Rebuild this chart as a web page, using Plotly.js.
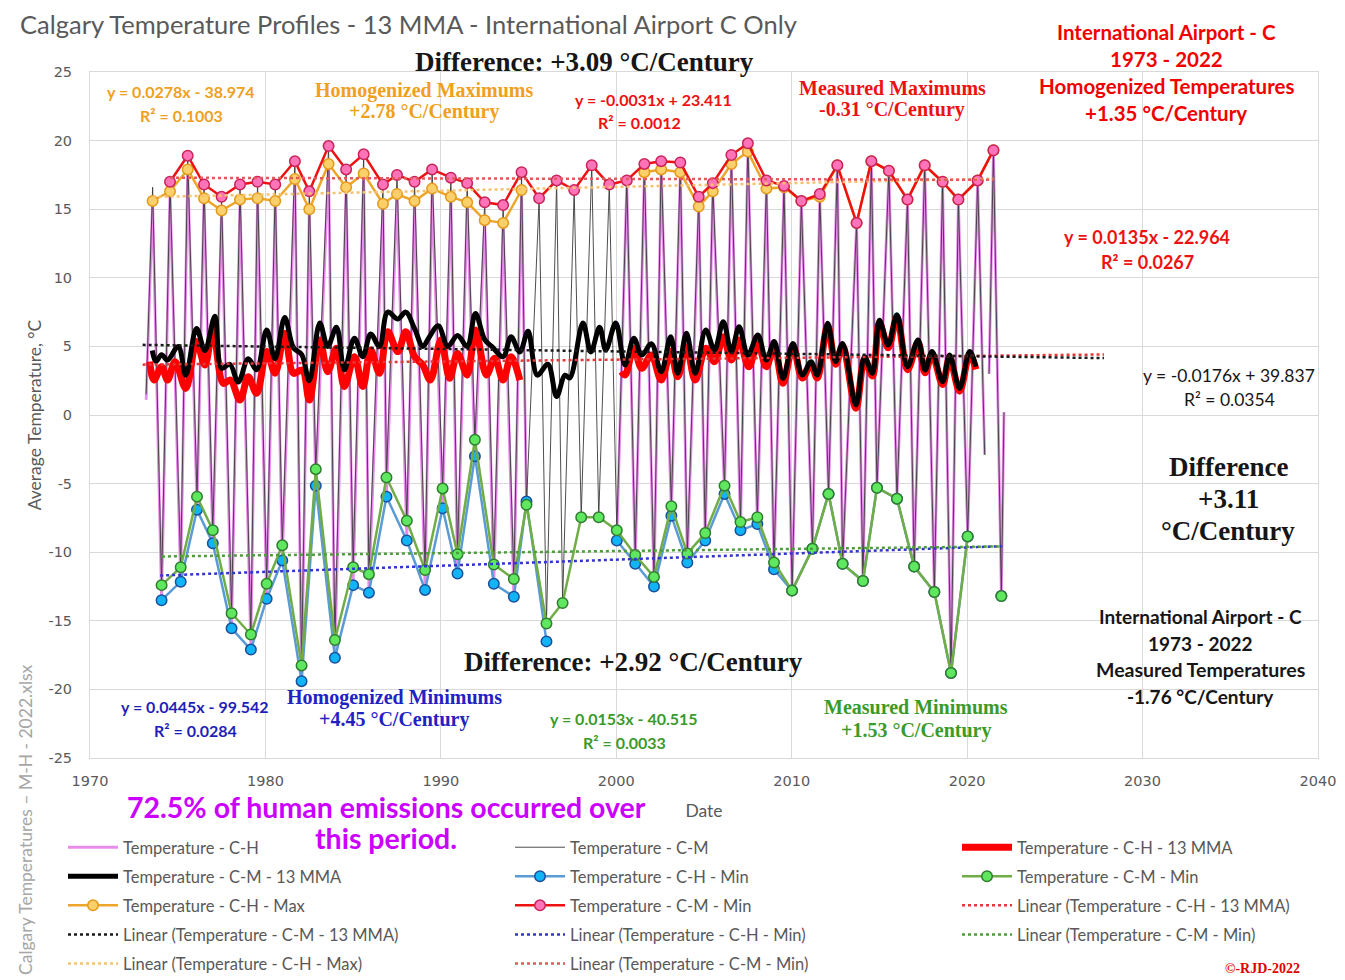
<!DOCTYPE html>
<html><head><meta charset="utf-8">
<script src="https://cdn.plot.ly/plotly-3.0.1.min.js"></script>
<style>html,body{margin:0;padding:0;background:#fff}#chart{width:1345px;height:980px}</style>
</head><body><div id="chart"></div>
<script>
// ---------- DATA ----------
// Yearly maximum (summer peak) dates, decimal years
const maxDates = [1973.57,1974.56,1975.57,1976.50,1977.50,1978.55,1979.55,
  1980.56,1981.68,1982.50,1983.60,1984.60,1985.60,1986.70,1987.50,1988.50,1989.50,
  1990.57,1991.50,1992.50,1993.55,1994.60,1995.60,1996.60,1997.60,1998.60,1999.60,
  2000.60,2001.60,2002.56,2003.65,2004.70,2005.50,2006.56,2007.50,2008.56,2009.56,
  2010.55,2011.60,2012.60,2013.70,2014.54,2015.54,2016.60,2017.58,2018.60,2019.50,
  2020.60,2021.50];
const chMax = [15.6,16.3,17.9,15.8,14.9,15.7,15.8,
  15.6,17.2,15.0,18.3,16.6,17.6,15.4,16.1,15.6,16.5,
  15.9,15.5,14.2,14.0,16.4,null,null,null,null,null,
  null,17.7,17.9,17.7,15.2,16.3,18.3,19.2,16.5,16.6,
  15.6,15.9,18.2,14.0,18.5,17.8,15.7,18.2,17.0,15.7,
  17.1,19.3];
const cmMax = [null,17.0,18.9,16.8,15.9,16.8,17.0,
  16.8,18.5,16.3,19.6,17.9,19.0,16.8,17.5,17.0,17.9,
  17.3,16.9,15.5,15.3,17.7,15.8,17.1,16.4,18.2,16.8,
  17.1,18.3,18.5,18.4,15.9,16.9,18.95,19.8,17.1,16.7,
  15.6,16.1,18.2,14.0,18.5,17.8,15.7,18.2,17.0,15.7,
  17.1,19.3];
// Yearly minimum (winter trough) dates, decimal years
const minDates = [1974.08,1975.17,1976.10,1977.00,1978.07,1979.17,
  1980.07,1980.96,1982.06,1982.87,1983.96,1985.00,1985.90,1986.90,1988.06,1989.10,
  1990.10,1990.95,1991.94,1993.02,1994.16,1994.88,1996.02,1996.94,1998.00,1999.00,
  2000.03,2001.08,2002.15,2003.14,2004.05,2005.07,2006.17,2007.08,2008.04,2008.99,
  2010.02,2011.18,2012.10,2012.90,2014.06,2014.86,2016.00,2016.98,2018.13,2019.08,
  2020.03,2021.10,2021.95];
const chMin = [-13.5,-12.15,-6.9,-9.35,-15.55,-17.1,
  -13.4,-10.6,-19.4,-5.15,-17.7,-12.4,-12.95,-5.95,-9.15,-12.75,
  -6.8,-11.55,-3.0,-12.3,-13.25,-6.3,-16.5,null,null,null,
  -9.15,-10.85,-12.5,-7.35,-10.75,-9.15,-5.75,-8.4,-7.95,-11.25,
  -12.8,-9.75,-5.75,-10.85,-12.1,-5.3,-6.1,-11.05,-12.9,-18.8,
  -8.85,null,-13.2];
const cmMin = [-12.4,-11.1,-5.95,-8.4,-14.45,-16.0,
  -12.3,-9.5,-18.25,-3.95,-16.4,-11.1,-11.6,-4.55,-7.7,-11.3,
  -5.35,-10.15,-1.8,-10.9,-11.95,-6.55,-15.2,-13.7,-7.45,-7.45,
  -8.4,-10.2,-11.8,-6.65,-10.1,-8.6,-5.15,-7.8,-7.45,-10.75,
  -12.8,-9.75,-5.75,-10.85,-12.1,-5.3,-6.1,-11.05,-12.9,-18.8,
  -8.85,null,-13.2];
// Monthly points visible besides the yearly extremes
const chExtraDates = [1973.20, 2000.60, 2021.00, 2021.25, 2022.10];
const chExtraVals  = [1.1, 16.9, -2.9, 3.0, 0.2];
const chGapDates   = [1995.30, 1996.50, 2021.12];
const cmExtraDates = [1973.20, 1973.57, 2021.00, 2021.25, 2022.10];
const cmExtraVals  = [1.5, 16.6, -2.9, 3.0, 0.2];
const cmGapDates   = [2021.12];

// 13-month moving averages (read at their crests and troughs)
const cmMmaDates = [1973.55,1973.75,1974.08,1974.42,1975.03,1975.46,1976.07,1976.55,1977.12,1977.50,
  1977.97,1978.45,1979.02,1979.50,1980.07,1980.55,1981.10,1981.60,1982.07,1982.50,
  1983.10,1983.55,1984.05,1984.50,1985.07,1985.55,1986.00,1986.50,1986.97,1987.55,
  1988.00,1988.50,1988.97,1989.30,1989.85,1990.40,1990.95,1991.50,1991.97,1992.50,
  1992.90,1993.55,1994.00,1994.50,1994.97,1995.50,1996.10,1996.60,1997.07,1997.35,
  1998.10,1998.55,1999.05,1999.40,1999.97,2000.50,2001.00,2001.45,2002.00,2002.56,
  2003.10,2003.50,2004.00,2004.50,2005.10,2005.60,2006.10,2006.56,2007.00,2007.50,
  2008.07,2008.55,2009.00,2009.50,2010.07,2010.60,2011.10,2011.45,2012.05,2012.50,
  2012.90,2013.66,2014.15,2014.60,2015.00,2015.50,2016.00,2016.60,2017.20,2017.60,
  2018.00,2018.60,2019.00,2019.57,2020.14,2020.50];
const cmMma = [4.7,3.9,4.4,4.0,5.0,2.9,6.3,4.7,7.2,3.4,
  3.7,2.4,4.1,3.3,6.2,4.1,7.1,4.9,4.4,2.5,
  6.7,5.0,6.4,3.3,5.6,4.25,5.9,5.0,7.5,7.0,
  7.5,6.3,5.0,5.6,6.5,5.0,5.8,5.0,7.4,5.5,
  5.0,4.25,5.7,4.6,6.1,2.9,3.7,1.35,2.9,2.7,
  6.7,4.6,6.4,4.74,6.7,3.64,5.6,4.37,5.2,3.16,
  5.7,3.04,5.95,3.04,6.2,4.74,6.8,4.62,6.44,4.37,
  5.83,4.0,5.35,2.67,5.22,2.92,3.89,2.92,6.68,3.89,
  5.22,0.73,4.25,3.04,6.9,5.1,7.3,3.52,5.47,3.28,
  4.62,2.43,4.37,1.94,4.62,3.52];
const chMmaDates = [1973.40,1973.65,1974.08,1974.42,1974.85,1975.46,1976.07,1976.55,1977.00,1977.60,
  1978.00,1978.55,1979.02,1979.50,1980.07,1980.55,1981.10,1981.60,1982.10,1982.50,
  1983.10,1983.55,1984.05,1984.50,1985.07,1985.55,1986.00,1986.50,1986.97,1987.55,
  1988.00,1988.50,1988.97,1989.40,1990.00,1990.50,1990.95,1991.50,1991.97,1992.60,
  1993.07,1993.55,1994.00,1994.50,1997.00,2000.30,2000.50,2001.00,2001.45,2002.00,
  2002.56,2003.10,2003.50,2004.00,2004.50,2005.10,2005.60,2006.10,2006.56,2007.00,
  2007.55,2008.07,2008.55,2009.00,2009.50,2010.07,2010.60,2011.10,2011.45,2012.05,
  2012.50,2012.90,2013.66,2014.15,2014.60,2015.00,2015.50,2016.00,2016.60,2017.20,
  2017.60,2018.00,2018.60,2019.00,2019.57,2020.14,2020.50];
const chMma = [3.89,2.55,3.52,2.55,3.89,1.94,5.35,3.64,6.2,2.31,
  2.55,1.09,2.79,1.58,4.62,3.04,5.95,3.04,3.28,1.09,
  5.47,3.16,4.86,2.07,4.25,2.07,4.74,3.04,6.07,4.62,
  6.07,4.25,3.64,2.55,5.47,2.67,4.49,2.92,6.2,2.92,
  4.13,2.55,4.25,2.55,null,3.16,2.92,4.86,3.4,4.37,
  2.55,4.62,2.79,4.98,2.55,4.86,3.89,5.71,4.01,5.47,
  3.52,5.22,3.52,4.98,2.31,5.0,2.7,3.7,2.7,6.5,
  3.7,5.0,0.5,4.05,2.85,6.7,4.9,7.1,3.3,5.27,
  3.08,4.42,2.23,4.17,1.74,4.42,3.32];

// Excel linear trendlines: y = slope*x + intercept (equations shown on the chart)
const trendNames = ['Linear (Temperature - C-H - 13 MMA)','Linear (Temperature - C-M - 13 MMA)',
  'Linear (Temperature - C-H - Min)','Linear (Temperature - C-M - Min)',
  'Linear (Temperature - C-H - Max)','Linear (Temperature - C-M - Min)'];
const trendSlope     = [0.0135, -0.0176, 0.0445, 0.0153, 0.0278, -0.0031];
const trendIntercept = [-22.964, 39.837, -99.542, -40.515, -38.974, 23.411];
const trendStart     = [1973.0, 1973.0, 1974.0, 1974.1, 1973.57, 1974.56];
const trendEnd       = [2027.8, 2027.8, 2022.0, 2022.0, 2021.5, 2021.5];

// Axis ticks
const yTickVals = [-25, -20, -15, -10, -5, 0, 5, 10, 15, 20, 25];
const yTickText = ['-25', '-20', '-15', '-10', '-5', '0', '5', '10', '15', '20', '25'];
const xTickVals = [1970, 1980, 1990, 2000, 2010, 2020, 2030, 2040];
const xTickText = ['1970', '1980', '1990', '2000', '2010', '2020', '2030', '2040'];

// ---------- BUILD ----------
function buildMonthly(dateArrs, valArrs, gaps) {
  const pts = [];
  dateArrs.forEach((d, k) => d.forEach((x, i) => { const v = valArrs[k][i]; if (v !== null) pts.push([x, v]); }));
  gaps.forEach(g => pts.push([g, null]));
  pts.sort((a, b) => a[0] - b[0]);
  return { x: pts.map(p => p[0]), y: pts.map(p => p[1]) };
}
const chMonthly = buildMonthly([minDates, maxDates, chExtraDates], [chMin, chMax, chExtraVals], chGapDates);
const cmMonthly = buildMonthly([minDates, maxDates, cmExtraDates], [cmMin, cmMax, cmExtraVals], cmGapDates);

let g = 0;
function grp() { g += 1; return 'g' + g; }

const traces = [];
traces.push({ x: chMonthly.x, y: chMonthly.y, mode: 'lines', name: 'Temperature - C-H',
  line: { color: '#e88ceb', width: 2.8 }, legend: 'legend', legendgroup: grp() });
traces.push({ x: cmMonthly.x, y: cmMonthly.y, mode: 'lines', name: 'Temperature - C-M',
  line: { color: '#3a3a3a', width: 0.9 }, legend: 'legend2', legendgroup: grp() });
traces.push({ x: chMmaDates, y: chMma, mode: 'lines', name: 'Temperature - C-H - 13 MMA',
  line: { color: '#ff0000', width: 7, shape: 'spline', smoothing: 1 }, legend: 'legend3', legendgroup: grp() });
traces.push({ x: cmMmaDates, y: cmMma, mode: 'lines', name: 'Temperature - C-M - 13 MMA',
  line: { color: '#000000', width: 5, shape: 'spline', smoothing: 1 }, legend: 'legend', legendgroup: grp() });
traces.push({ x: minDates, y: chMin, mode: 'lines+markers', name: 'Temperature - C-H - Min',
  line: { color: '#5b9bd5', width: 2.5 }, marker: { size: 10.5, color: '#11b4f5', line: { color: '#1d4f9c', width: 1.5 } },
  legend: 'legend2', legendgroup: grp() });
traces.push({ x: minDates, y: cmMin, mode: 'lines+markers', name: 'Temperature - C-M - Min',
  line: { color: '#70ad47', width: 2.5 }, marker: { size: 10.5, color: '#5fe85f', line: { color: '#2f7d2f', width: 1.5 } },
  legend: 'legend3', legendgroup: grp() });
traces.push({ x: maxDates, y: chMax, mode: 'lines+markers', name: 'Temperature - C-H - Max',
  line: { color: '#eda62a', width: 2.5 }, marker: { size: 10.5, color: '#fbcf6a', line: { color: '#e39a1c', width: 1.5 } },
  legend: 'legend', legendgroup: grp() });
traces.push({ x: maxDates, y: cmMax, mode: 'lines+markers', name: 'Temperature - C-M - Min',
  line: { color: '#ee1111', width: 2.5 }, marker: { size: 10.5, color: '#ff74b8', line: { color: '#c8245a', width: 1.5 } },
  legend: 'legend2', legendgroup: grp() });

const trendColors = ['#e23a3a', '#1a1a1a', '#3434d0', '#4b9e3a', '#f6c26e', '#e35a5a'];
const trendLegend = ['legend3', 'legend', 'legend2', 'legend3', 'legend', 'legend2'];
for (let i = 0; i < trendSlope.length; i++) {
  const xs = [trendStart[i], trendEnd[i]];
  traces.push({ x: xs, y: xs.map(v => trendSlope[i] * v + trendIntercept[i]), mode: 'lines', name: trendNames[i],
    line: { color: trendColors[i], width: 2.5, dash: 'dot' }, legend: trendLegend[i], legendgroup: grp() });
}

// ---------- LAYOUT ----------
const PX = x => (x - 90) / 1228;
const PY = y => (758 - y) / 686;
const SERIF = 'Liberation Serif, Times New Roman, serif';
const SANS = 'Lato, Liberation Sans, sans-serif';
const anns = [];
function ann(text, x, y, size, color, family, extra) {
  anns.push(Object.assign({ text: text, x: PX(x), y: PY(y), xref: 'paper', yref: 'paper',
    xanchor: 'center', yanchor: 'middle', showarrow: false,
    font: { family: family, size: size, color: color } }, extra || {}));
}
const ORANGE = '#f0a020', RED = '#ee1111', BLUE = '#1f1fb8', GREEN = '#3a9a2a', BLK = '#161616';
ann('<b>Difference: +3.09 °C/Century</b>', 584, 62, 27, BLK, SERIF);
ann('<b>y = 0.0278x - 38.974</b>', 181, 92, 16, ORANGE, SANS);
ann('<b>R² = 0.1003</b>', 181, 115, 16, ORANGE, SANS);
ann('<b>Homogenized Maximums</b>', 424, 90, 20, ORANGE, SERIF);
ann('<b>+2.78 °C/Century</b>', 424, 112, 20, ORANGE, SERIF);
ann('<b>y = -0.0031x + 23.411</b>', 653, 99, 16, RED, SANS);
ann('<b>R² = 0.0012</b>', 639, 122, 16, RED, SANS);
ann('<b>Measured Maximums</b>', 892, 88, 20, RED, SERIF);
ann('<b>-0.31 °C/Century</b>', 892, 110, 20, RED, SERIF);
ann('<b>International Airport - C</b>', 1166, 32, 20.5, '#f00000', SANS);
ann('<b>1973 - 2022</b>', 1166, 59, 20.5, '#f00000', SANS);
ann('<b>Homogenized Temperatures</b>', 1166, 86, 20.5, '#f00000', SANS);
ann('<b>+1.35 °C/Century</b>', 1166, 113, 20.5, '#f00000', SANS);
ann('<b>y = 0.0135x - 22.964</b>', 1147, 237, 18, RED, SANS);
ann('<b>R² = 0.0267</b>', 1147, 262, 18, RED, SANS);
ann('y = -0.0176x + 39.837', 1229, 375, 17.5, BLK, SANS);
ann('R² = 0.0354', 1229, 399, 17.5, BLK, SANS);
ann('<b>Difference</b>', 1228, 467, 27, BLK, SERIF);
ann('<b>+3.11</b>', 1228, 499, 27, BLK, SERIF);
ann('<b>°C/Century</b>', 1228, 531, 27, BLK, SERIF);
ann('<b>International Airport - C</b>', 1200, 616, 19, BLK, SANS);
ann('<b>1973 - 2022</b>', 1200, 643, 19, BLK, SANS);
ann('<b>Measured Temperatures</b>', 1200, 669, 19.5, BLK, SANS);
ann('<b>-1.76 °C/Century</b>', 1200, 696, 19, BLK, SANS);
ann('<b>Difference: +2.92 °C/Century</b>', 633, 662, 27, BLK, SERIF);
ann('<b>y = 0.0445x - 99.542</b>', 195, 706, 16, BLUE, SANS);
ann('<b>R² = 0.0284</b>', 195, 730, 16, BLUE, SANS);
ann('<b>Homogenized Minimums</b>', 394, 697, 20, '#2222c4', SERIF);
ann('<b>+4.45 °C/Century</b>', 394, 719, 20, '#2222c4', SERIF);
ann('<b>y = 0.0153x - 40.515</b>', 624, 718, 16, GREEN, SANS);
ann('<b>R² = 0.0033</b>', 624, 742, 16, GREEN, SANS);
ann('<b>Measured Minimums</b>', 916, 707, 20, GREEN, SERIF);
ann('<b>+1.53 °C/Century</b>', 916, 730, 20, GREEN, SERIF);
ann('<b>72.5% of human emissions occurred over</b>', 386, 807, 28.5, '#cc00ff', SANS);
ann('<b>this period.</b>', 386, 838, 28.5, '#cc00ff', SANS);
ann('<b>©-RJD-2022</b>', 1262, 968, 14, '#e00000', SERIF);
ann('Calgary Temperatures – M-H - 2022.xlsx', 25, 820, 17.5, '#a6a6a6', SANS, { textangle: -90 });

const legendBase = { orientation: 'v', traceorder: 'grouped', tracegroupgap: 4.6, bgcolor: 'rgba(0,0,0,0)',
  font: { family: SANS, size: 16.5, color: '#595959' }, itemwidth: 50, xanchor: 'left', yanchor: 'top', y: PY(830) };

const layout = {
  width: 1345, height: 980,
  margin: { l: 90, r: 27, t: 72, b: 222, pad: 0, autoexpand: false },
  paper_bgcolor: '#ffffff', plot_bgcolor: '#ffffff',
  title: { text: 'Calgary Temperature Profiles - 13 MMA - International Airport C Only',
    x: 20 / 1345, xanchor: 'left', xref: 'container', y: 1 - 25 / 980, yanchor: 'middle', yref: 'container',
    font: { family: SANS, size: 25.5, color: '#595959' } },
  xaxis: { range: [1970, 2040], tickmode: 'array', tickvals: xTickVals, ticktext: xTickText,
    showgrid: true, gridcolor: '#d9d9d9', gridwidth: 1,
    zeroline: false, showline: true, mirror: true, linecolor: '#d9d9d9', ticks: '',
    ticklabelstandoff: 10, tickfont: { family: 'DejaVu Sans, sans-serif', size: 14.5, color: '#595959' },
    title: { text: 'Date', standoff: 16, font: { family: SANS, size: 17.5, color: '#595959' } } },
  yaxis: { range: [-25, 25], tickmode: 'array', tickvals: yTickVals, ticktext: yTickText,
    showgrid: true, gridcolor: '#d9d9d9', gridwidth: 1,
    zeroline: false, showline: true, mirror: true, linecolor: '#d9d9d9', ticks: '',
    ticklabelstandoff: 14, tickfont: { family: 'DejaVu Sans, sans-serif', size: 14.5, color: '#595959' },
    title: { text: 'Average Temperature, °C', standoff: 2, font: { family: SANS, size: 17.5, color: '#595959' } } },
  legend: Object.assign({}, legendBase, { x: PX(63) }),
  legend2: Object.assign({}, legendBase, { x: PX(510) }),
  legend3: Object.assign({}, legendBase, { x: PX(957) }),
  annotations: anns,
  showlegend: true
};

Plotly.newPlot('chart', traces, layout, { displayModeBar: false, responsive: false });
</script></body></html>
